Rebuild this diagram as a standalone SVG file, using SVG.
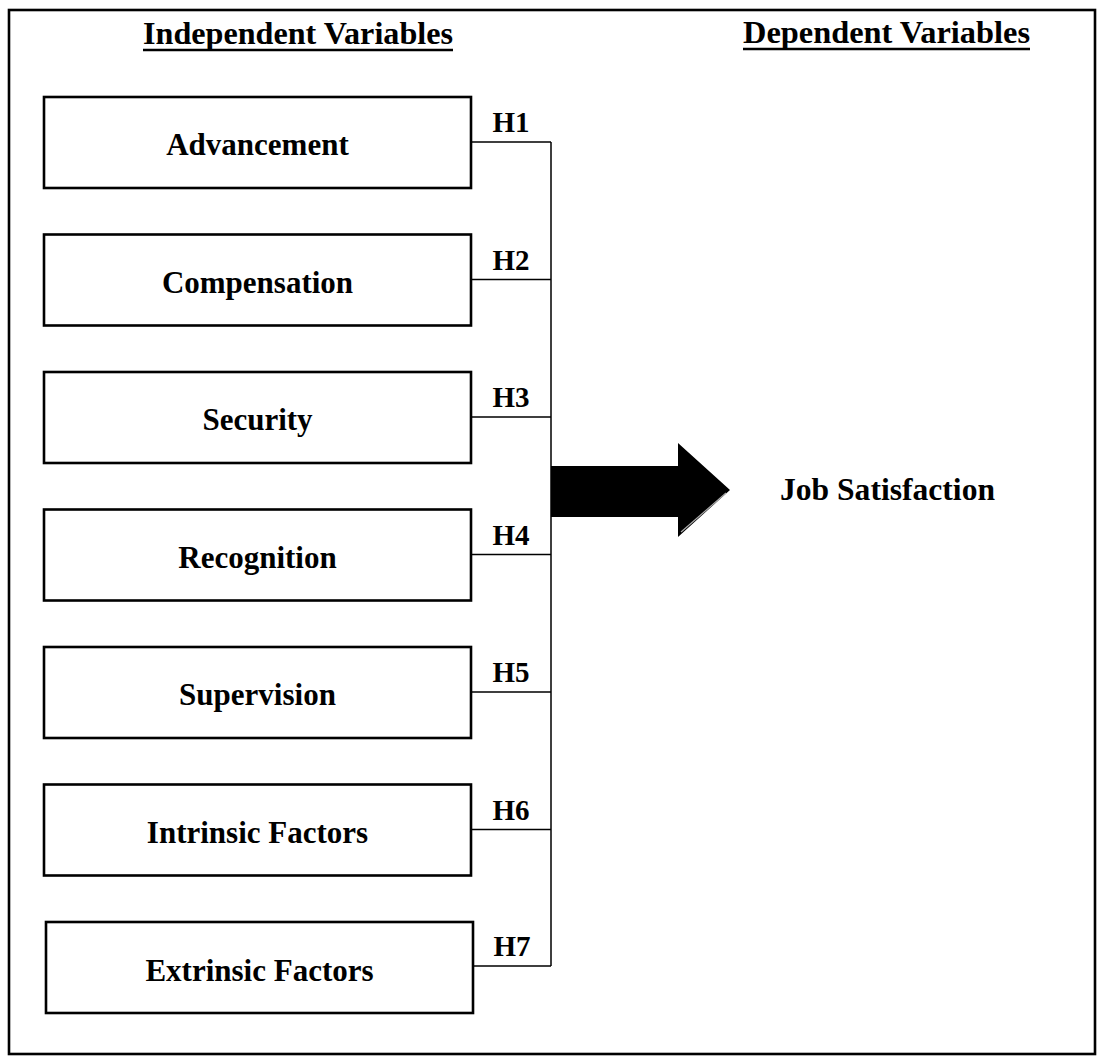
<svg xmlns="http://www.w3.org/2000/svg" width="1100" height="1057" viewBox="0 0 1100 1057">
<style>
.frame{fill:none;stroke:#000;stroke-width:2.6}
.box{fill:#fff;stroke:#000;stroke-width:2.6}
.t{font-family:"Liberation Serif","Times New Roman",serif;font-weight:bold;font-size:31px;fill:#000;text-anchor:middle}
.h{font-family:"Liberation Serif","Times New Roman",serif;font-weight:bold;font-size:29px;fill:#000;text-anchor:middle}
.conn{fill:none;stroke:#000;stroke-width:1.5}
.ul{stroke:#000;stroke-width:2.4}
</style>
<rect x="0" y="0" width="1100" height="1057" fill="#fff"/>
<rect class="frame" x="9" y="10" width="1086" height="1044"/>
<g id="titles">
<text class="t" x="298" y="44" textLength="310" lengthAdjust="spacingAndGlyphs">Independent Variables</text>
<line class="ul" x1="143" y1="50" x2="453" y2="50"/>
<text class="t" x="886.5" y="43" textLength="287" lengthAdjust="spacingAndGlyphs">Dependent Variables</text>
<line class="ul" x1="743" y1="49" x2="1030" y2="49"/>
</g>
<g id="connectors">
<path class="conn" d="M471 142H551M471 279.5H551M471 417H551M471 554.5H551M471 692H551M471 829.5H551M473 966H551M551 142V966"/>
<text class="h" x="511" y="132">H1</text>
<text class="h" x="511" y="269.5">H2</text>
<text class="h" x="511" y="407">H3</text>
<text class="h" x="511" y="544.5">H4</text>
<text class="h" x="511" y="682">H5</text>
<text class="h" x="511" y="819.5">H6</text>
<text class="h" x="512" y="956">H7</text>
<polygon points="551,466 678,466 678,443 730,490 678,537 678,517 551,517" fill="#000"/>
<line x1="681" y1="532" x2="726" y2="493" stroke="#aaa" stroke-width="1.2"/>
</g>
<g id="n1"><rect class="box" x="44" y="97" width="427" height="91"/><text class="t" x="257.5" y="155">Advancement</text></g>
<g id="n2"><rect class="box" x="44" y="234.5" width="427" height="91"/><text class="t" x="257.5" y="292.5">Compensation</text></g>
<g id="n3"><rect class="box" x="44" y="372" width="427" height="91"/><text class="t" x="257.5" y="430">Security</text></g>
<g id="n4"><rect class="box" x="44" y="509.5" width="427" height="91"/><text class="t" x="257.5" y="567.5">Recognition</text></g>
<g id="n5"><rect class="box" x="44" y="647" width="427" height="91"/><text class="t" x="257.5" y="705">Supervision</text></g>
<g id="n6"><rect class="box" x="44" y="784.5" width="427" height="91"/><text class="t" x="257.5" y="842.5">Intrinsic Factors</text></g>
<g id="n7"><rect class="box" x="46" y="922" width="427" height="91"/><text class="t" x="259.5" y="981">Extrinsic Factors</text></g>
<g id="dv"><text class="t" x="887.5" y="500" textLength="215" lengthAdjust="spacingAndGlyphs">Job Satisfaction</text></g>
</svg>
